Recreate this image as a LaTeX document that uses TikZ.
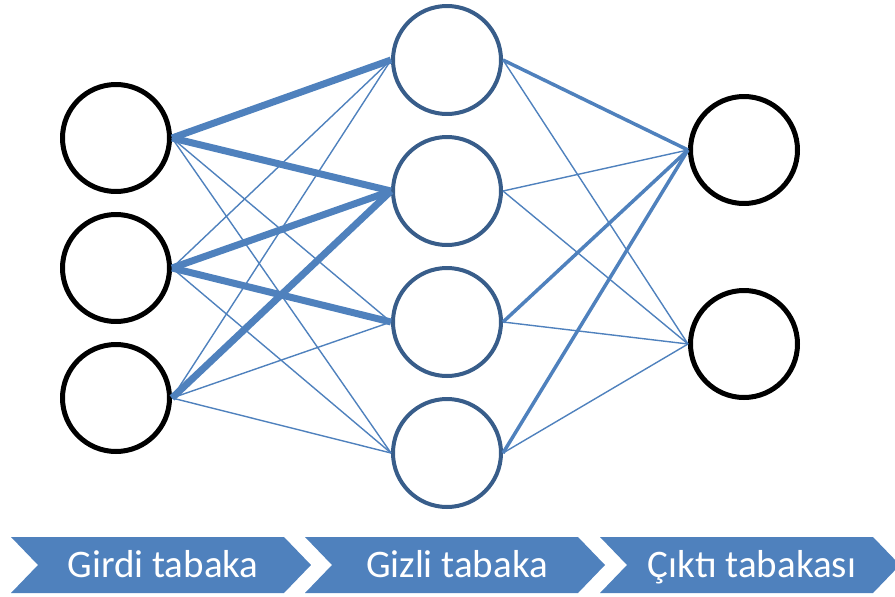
\documentclass[tikz,border=0pt]{standalone}
\usepackage{fontspec}
\setmainfont{Carlito}
\definecolor{netblue}{HTML}{4F81BD}
\definecolor{hidblue}{HTML}{385D8A}
\begin{document}
\begin{tikzpicture}[x=1pt,y=-1pt,line join=round,
	neuron/.style={circle,draw=black,line width=5pt,minimum size=107pt,inner sep=0pt},
	hidneuron/.style={neuron,draw=hidblue,line width=4pt,minimum size=108pt},
	wthin/.style={netblue,line width=1.4pt},
	wmid/.style={netblue,line width=3.5pt},
	wthick/.style={netblue,line width=7pt},
	band/.style={fill=netblue},
	bandtext/.style={text=white,anchor=base,font=\fontsize{39}{44}\selectfont}]
	\useasboundingbox (0,0) rectangle (895,597);
	% girdi, gizli ve cikti katmanlari
	\foreach \i/\y in {1/138,2/268,3/398}
		\node[neuron] (i\i) at (116,\y) {};
	\foreach \i/\y in {1/60,2/191,3/322,4/453}
		\node[hidneuron] (h\i) at (447,\y) {};
	\foreach \i/\y in {1/150,2/344}
		\node[neuron] (o\i) at (744,\y) {};
	% agirliklar
	\foreach \a/\b/\w in {i1/h1/wthick,i1/h2/wthick,i1/h3/wthin,i1/h4/wthin,
		i2/h1/wthin,i2/h2/wthick,i2/h3/wthick,i2/h4/wthin,
		i3/h1/wthin,i3/h2/wthick,i3/h3/wthin,i3/h4/wthin}
		\draw[\w] (\a.east) -- (\b.west);
	\foreach \a/\b/\w in {h1/o1/wmid,h1/o2/wthin,h2/o1/wthin,h2/o2/wthin,
		h3/o1/wmid,h3/o2/wthin,h4/o1/wmid,h4/o2/wthin}
		\draw[\w] (\a.east) -- (\b.west);
	% alt serit
	\foreach \x/\t/\n in {11/Girdi tabaka/c1,305/Gizli tabaka/c2,600/Çıktı tabakası/c3}{
		\fill[band] (\x,537) -- ++(273,0) -- ++(27,28) -- ++(-27,28) -- ++(-273,0) -- ++(27,-28) -- cycle;
		\node[bandtext] (\n) at (\x+152,577) {\t};
	}
\end{tikzpicture}
\end{document}
